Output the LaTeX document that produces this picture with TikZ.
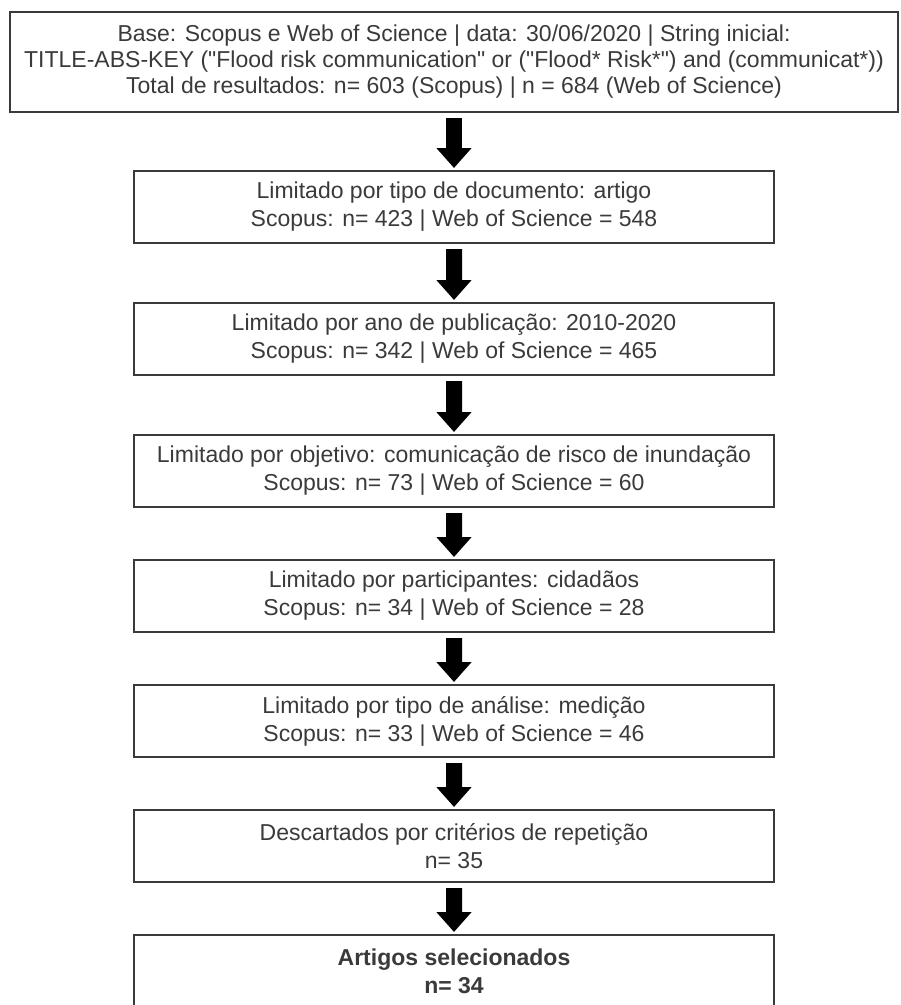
\documentclass[tikz,border=0pt]{standalone}
\usepackage{fontspec}
\setmainfont{Liberation Sans}[Ligatures=TeXOff]
\usepackage{tikz}
\usetikzlibrary{trees,arrows.meta}

\definecolor{tinta}{HTML}{3A3A3A}

\begin{document}
\begin{tikzpicture}[
	level/.style={level distance=125pt},
	level 1/.style={level distance=145pt},
	level 2/.style={level distance=132pt},
	level 3/.style={level distance=132pt},
	caixa/.style={draw=tinta, line width=2pt, text=tinta, align=center,
		minimum width=640pt, minimum height=72pt, inner sep=2pt,
		font=\fontsize{23}{28}\selectfont},
	topo/.style={caixa, minimum width=888pt, minimum height=100pt,
		font=\fontsize{23}{26}\selectfont},
	every child node/.style={caixa},
	edge from parent/.style={draw, black, line width=16pt,
		-{Triangle[width=34pt,length=20pt]}, shorten <=5pt, shorten >=2pt}]
	\useasboundingbox (0,0) rectangle (901pt,-1005pt);
	\node[topo] (base) at (454pt,-62pt) {Base: Scopus e Web of Science | data: 30/06/2020 | String inicial:\\
		TITLE-ABS-KEY ("Flood risk communication" or ("Flood* Risk*") and (communicat*))\\
		Total de resultados: n= 603 (Scopus) | n = 684 (Web of Science)}
	child {node (tipo) {Limitado por tipo de documento: artigo\\Scopus: n= 423 | Web of Science = 548}
		child {node (ano) {Limitado por ano de publicação: 2010-2020\\Scopus: n= 342 | Web of Science = 465}
			child {node (objetivo) {Limitado por objetivo: comunicação de risco de inundação\\Scopus: n= 73 | Web of Science = 60}
				child {node (participantes) {Limitado por participantes: cidadãos\\Scopus: n= 34 | Web of Science = 28}
					child {node (analise) {Limitado por tipo de análise: medição\\Scopus: n= 33 | Web of Science = 46}
						child {node (repeticao) {Descartados por critérios de repetição\\n= 35}
							child {node[font=\fontsize{23}{28}\selectfont\bfseries] (selecionados) {Artigos selecionados\\n= 34}}
						}
					}
				}
			}
		}
	};
\end{tikzpicture}
\end{document}
